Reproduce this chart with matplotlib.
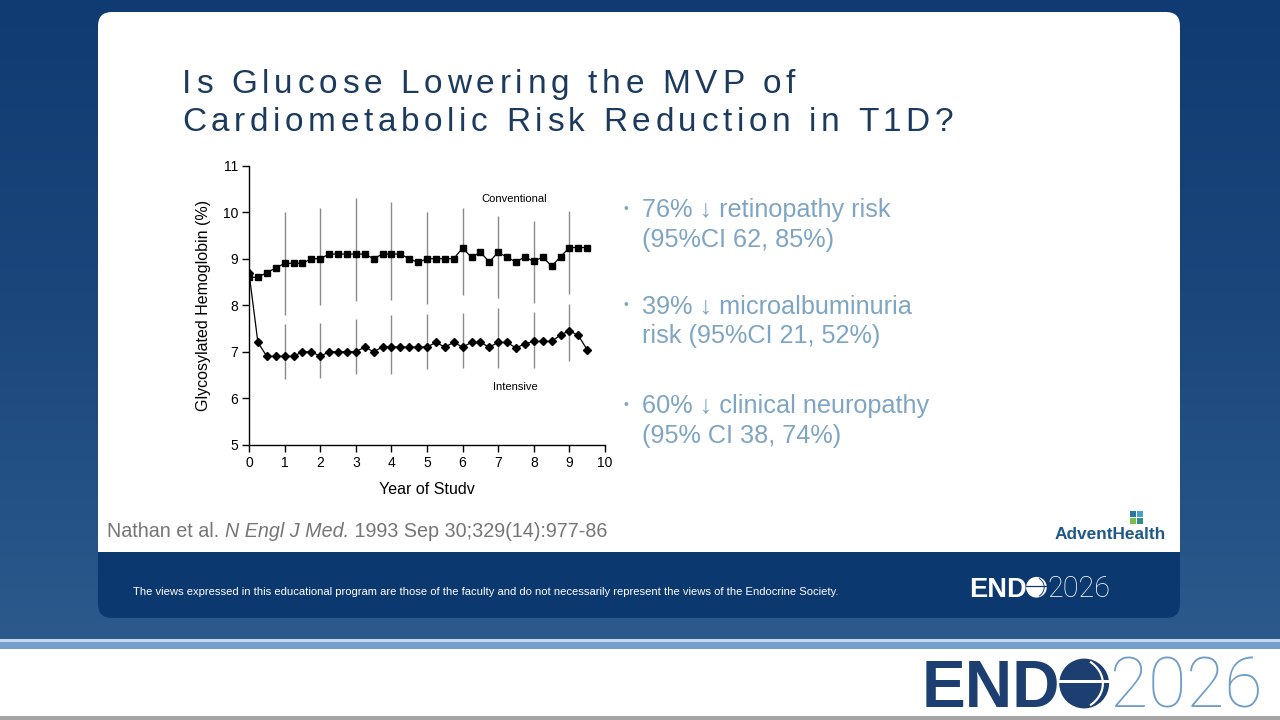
import numpy as np
import matplotlib
matplotlib.use("Agg")
import matplotlib.pyplot as plt
from matplotlib.patches import FancyBboxPatch, Rectangle, Circle, Arc
from matplotlib.colors import LinearSegmentedColormap

plt.rcParams['font.family'] = ['Liberation Sans', 'DejaVu Sans']

# --- data (HbA1c %, quarterly visits) ---
years = [0, 0.25, 0.5, 0.75, 1, 1.25, 1.5, 1.75, 2, 2.25, 2.5, 2.75, 3, 3.25,
         3.5, 3.75, 4, 4.25, 4.5, 4.75, 5, 5.25, 5.5, 5.75, 6, 6.25, 6.5,
         6.75, 7, 7.25, 7.5, 7.75, 8, 8.25, 8.5, 8.75, 9, 9.25, 9.5]
conventional = [8.6, 8.6, 8.7, 8.8, 8.9, 8.9, 8.9, 9.0, 9.0, 9.1, 9.1, 9.1, 9.1,
                9.1, 9.0, 9.1, 9.1, 9.1, 9.0, 8.92, 9.0, 9.0, 9.0, 9.0, 9.23,
                9.03, 9.14, 8.93, 9.14, 9.03, 8.93, 9.04, 8.94, 9.04, 8.84,
                9.04, 9.24, 9.24, 9.24]
intensive = [8.7, 7.2, 6.9, 6.9, 6.9, 6.9, 7.0, 7.0, 6.9, 7.0, 7.0, 7.0, 7.0,
             7.1, 7.0, 7.1, 7.1, 7.1, 7.1, 7.1, 7.1, 7.2, 7.1, 7.2, 7.1, 7.2,
             7.2, 7.1, 7.2, 7.2, 7.08, 7.17, 7.22, 7.22, 7.22, 7.36, 7.45,
             7.35, 7.04]

bar_years = [1, 2, 3, 4, 5, 6, 7, 8, 9]
conv_lo = [7.8, 8.0, 8.1, 8.12, 8.03, 8.23, 8.15, 8.05, 8.24]
conv_hi = [10.0, 10.09, 10.3, 10.21, 10.01, 10.1, 9.92, 9.82, 10.03]
int_lo = [6.42, 6.43, 6.52, 6.52, 6.62, 6.64, 6.64, 6.64, 6.79]
int_hi = [7.6, 7.62, 7.71, 7.79, 7.81, 7.83, 7.93, 7.85, 8.03]

title_lines = ["Is Glucose Lowering the MVP of",
               "Cardiometabolic Risk Reduction in T1D?"]
bullets = [("76% \u2193 retinopathy risk", "(95%CI 62, 85%)"),
           ("39% \u2193 microalbuminuria", "risk (95%CI 21, 52%)"),
           ("60% \u2193 clinical neuropathy", "(95% CI 38, 74%)")]
citation = [("Nathan et al. ", "normal"), ("N Engl J Med.", "italic"),
            (" 1993 Sep 30;329(14):977-86", "normal")]
disclaimer = ("The views expressed in this educational program are those of the "
              "faculty and do not necessarily represent the views of the "
              "Endocrine Society.")

navy = '#0b386f'
title_col = '#1c3a5e'
bullet_col = '#7ea5c3'

fig = plt.figure(figsize=(12.8, 7.2), dpi=100)
bg = fig.add_axes([0, 0, 1, 1])
bg.set_xlim(0, 1280)
bg.set_ylim(720, 0)
bg.axis('off')
renderer = fig.canvas.get_renderer()


def text_width(s, **kw):
    # width of s in pixels, trailing spaces included
    t = bg.text(0, 0, s + '|', **kw)
    w = t.get_window_extent(renderer).width
    t.remove()
    t = bg.text(0, 0, '|', **kw)
    w -= t.get_window_extent(renderer).width
    t.remove()
    return w


def spaced_text(x, y, s, width, **kw):
    gap = (width - text_width(s, **kw)) / (len(s) - 1)
    for i, ch in enumerate(s):
        if ch != ' ':
            bg.text(x + text_width(s[:i], **kw) + gap * i, y, ch,
                    ha='left', va='baseline', **kw)


# background
grad = np.linspace(0, 1, 200).reshape(-1, 1)
cmap = LinearSegmentedColormap.from_list('bgc', ['#0f3b72', '#1b477d', '#2c5a8d'])
bg.imshow(grad, extent=[0, 1280, 642, 0], aspect='auto', cmap=cmap, zorder=0)
bg.add_patch(Rectangle((0, 639), 1280, 3, fc='#c5d9ec', ec='none', zorder=1))
bg.add_patch(Rectangle((0, 642), 1280, 7, fc='#729fcc', ec='none', zorder=1))
bg.add_patch(Rectangle((0, 649), 1280, 71, fc='white', ec='none', zorder=1))
bg.add_patch(Rectangle((0, 716), 1280, 4, fc='#a5a5a5', ec='none', zorder=1))

# slide card and footer band
bg.add_patch(FancyBboxPatch((98, 12), 1082, 560, boxstyle='round,pad=0,rounding_size=14',
                            fc='white', ec='none', zorder=2))
bg.add_patch(FancyBboxPatch((98, 530), 1082, 88, boxstyle='round,pad=0,rounding_size=14',
                            fc=navy, ec='none', zorder=3))
bg.add_patch(Rectangle((98, 528), 1082, 24, fc='white', ec='none', zorder=4))

# title
spaced_text(182, 93, title_lines[0], 613, fontsize=24, color=title_col, zorder=5)
spaced_text(182, 131, title_lines[1], 771, fontsize=24, color=title_col, zorder=5)

# bullets
for (l1, l2), yb in zip(bullets, [217, 313, 413]):
    bg.text(623, yb - 8, '\u2022', fontsize=10, color=bullet_col, ha='left',
            va='center', zorder=5)
    bg.text(642, yb, l1, fontsize=18.2, color=bullet_col, ha='left', va='baseline', zorder=5)
    bg.text(642, yb + 29.5, l2, fontsize=18.2, color=bullet_col, ha='left',
            va='baseline', zorder=5)

# citation
x = 107
for seg, style in citation:
    bg.text(x, 537, seg, fontsize=14.2, color='#767676', style=style,
            ha='left', va='baseline', zorder=5)
    x += text_width(seg, fontsize=14.2, style=style)

# disclaimer
bg.text(133, 595, disclaimer, fontsize=8.1, color='white', ha='left',
        va='baseline', zorder=5)

# AdventHealth logo
bg.text(1055, 539, 'AdventHealth', fontsize=12.4, fontweight='semibold',
        color='#1f5a86', ha='left', va='baseline', zorder=5)
for (sx, sy), c in zip([(1130, 511), (1137, 511), (1130, 518), (1137, 518)],
                       ['#2b7a9e', '#45a3d1', '#7cbc4b', '#2f8c86']):
    bg.add_patch(Rectangle((sx, sy), 6, 6, fc=c, ec='none', zorder=5))


def endo_logo(x, base, cap, end_col, num_col, globe_col, stripe_col):
    fs = cap / 0.716 * 0.72
    bg.text(x, base, 'END', fontsize=fs, fontweight='bold', color=end_col,
            ha='left', va='baseline', zorder=6)
    x += text_width('END', fontsize=fs, fontweight='bold')
    r = cap * 0.53
    cx, cy = x + r * 0.95, base - cap / 2
    bg.add_patch(Circle((cx, cy), r, fc=globe_col, ec='none', zorder=6))
    bg.plot([cx - r, cx + r], [cy - r * 0.12, cy - r * 0.12], color=stripe_col,
            lw=max(cap / 22, 0.8), zorder=7)
    bg.add_patch(Arc((cx - r * 0.55, cy), r * 2.6, r * 2.2, theta1=-48, theta2=48,
                     color=stripe_col, lw=max(cap / 30, 0.6), zorder=7))
    bg.text(cx + r * 1.05, base, '2026', fontsize=fs * 1.06, fontfamily='Roboto',
            fontweight='light', color=num_col, ha='left', va='baseline', zorder=6)


endo_logo(922, 707, 47, '#1d3e70', '#6f9dc9', '#1d3e70', 'white')
endo_logo(969, 597, 19.5, 'white', 'white', 'white', navy)

# --- the DCCT chart ---
ax = fig.add_axes([249 / 1280, 1 - 444.7 / 720, 356 / 1280, 279 / 720])
ax.patch.set_alpha(0)
ax.set_xlim(0, 10)
ax.set_ylim(5, 11)
for side in ['top', 'right']:
    ax.spines[side].set_visible(False)
for side in ['left', 'bottom']:
    ax.spines[side].set_linewidth(1)
ax.set_xticks(range(0, 11))
ax.set_yticks(range(5, 12))
ax.tick_params(direction='out', length=5, width=1, labelsize=10, pad=3)

ax.vlines(bar_years, conv_lo, conv_hi, color='#8a8a8a', lw=1)
ax.vlines(bar_years, int_lo, int_hi, color='#8a8a8a', lw=1)
ax.plot(years, conventional, color='black', lw=0.9, marker='s', ms=4.2)
ax.plot(years, intensive, color='black', lw=0.9, marker='D', ms=4.2)

ax.text(7.45, 10.28, 'Conventional', fontsize=8, ha='center', va='center')
ax.text(7.47, 6.24, 'Intensive', fontsize=8, ha='center', va='center')
ax.set_xlabel('Year of Studv', fontsize=11.5, labelpad=9)
ax.set_ylabel('Glycosylated Hemoglobin (%)', fontsize=11.5, labelpad=8)

fig.savefig('out.png', dpi=100)
